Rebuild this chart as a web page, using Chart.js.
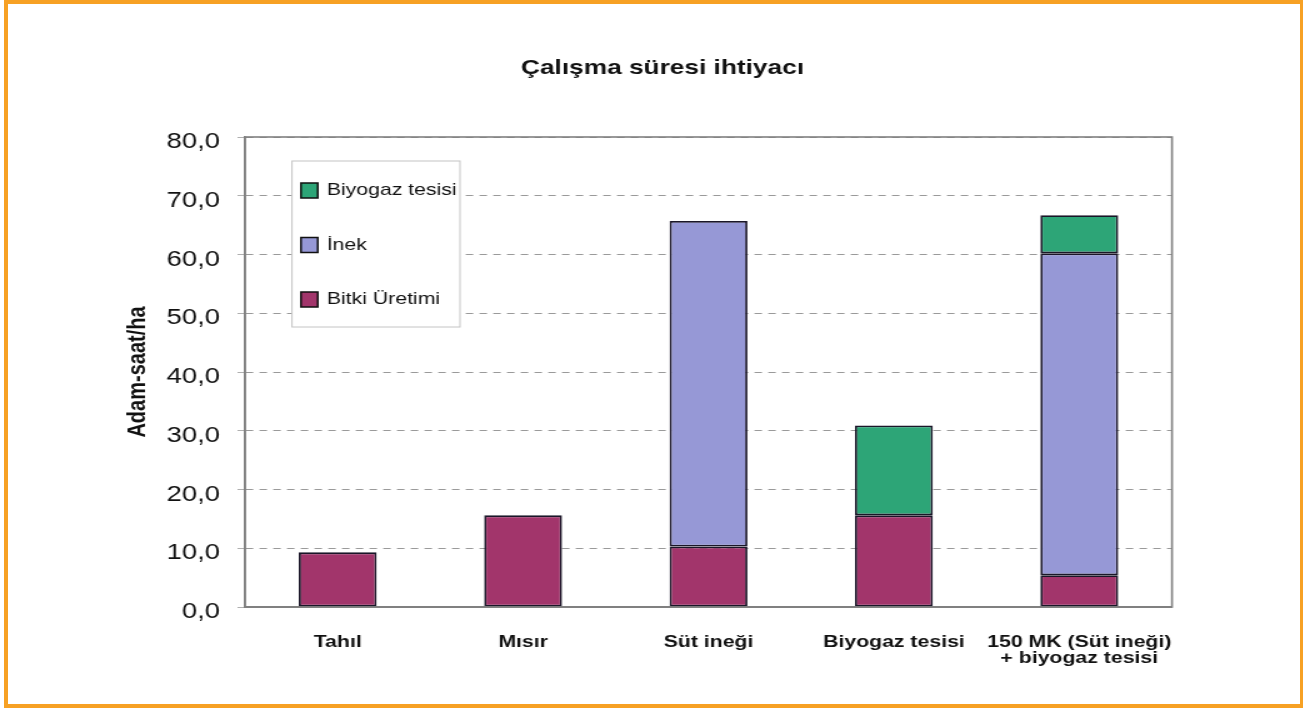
<!DOCTYPE html>
<html lang="tr">
<head>
<meta charset="utf-8">
<title>Çalışma süresi ihtiyacı</title>
<script src="https://cdn.jsdelivr.net/npm/chart.js@4.4.1/dist/chart.umd.min.js"></script>
<style>
  html, body { margin: 0; padding: 0; background: #fff; width: 1303px; height: 708px; overflow: hidden; }
  #frame { position: absolute; left: 4px; top: 0; width: 1299px; height: 708px; box-sizing: border-box;
           border: 4px solid #F7A124; border-right-width: 3px; pointer-events: none; }
  #wrap { position: absolute; left: 30px; top: 0; width: 1012px; height: 708px;
          transform: scaleX(1.25); transform-origin: 0 0; }
  #chart { display: block; }
</style>
</head>
<body>
<div id="wrap"><canvas id="chart" width="1012" height="708"></canvas></div>
<div id="frame"></div>
<script>
// Categories along the x axis
const categories = ['Tahıl', 'Mısır', 'Süt ineği', 'Biyogaz tesisi', ['150 MK (Süt ineği)', '+ biyogaz tesisi']];

// Man-hours per hectare, stacked from the bottom up
const bitkiUretimi  = [9.3, 15.6, 10.3, 15.6, 5.4];
const inek          = [null, null, 55.4, null, 54.8];
const biyogazTesisi = [null, null, null, 15.3, 6.5];

// Series names
const seriesNames = ['Bitki Üretimi', 'İnek', 'Biyogaz tesisi'];

// Value axis
const yMin = 0, yMax = 80, yStep = 10;
const formatTick = v => v.toFixed(1).replace('.', ',');

const FONT = "'Liberation Sans', Arial, Helvetica, sans-serif";
Chart.defaults.font.family = FONT;
Chart.defaults.color = '#000';

// Grey frame around the plot area
const plotFrame = {
  id: 'plotFrame',
  afterDatasetsDraw(chart) {
    const { ctx, chartArea: a } = chart;
    ctx.save();
    ctx.strokeStyle = '#808080';
    ctx.lineWidth = 1.6;
    ctx.strokeRect(a.left, a.top, a.right - a.left, a.bottom - a.top);
    ctx.restore();
  }
};

// Boxed legend sitting inside the plot, top series first
const boxLegend = {
  id: 'boxLegend',
  afterDraw(chart, args, o) {
    const { ctx } = chart;
    ctx.save();
    ctx.fillStyle = '#fff';
    ctx.fillRect(o.x, o.y, o.width, o.height);
    ctx.strokeStyle = '#c4c4c4';
    ctx.lineWidth = 1;
    ctx.strokeRect(o.x, o.y, o.width, o.height);
    const order = chart.data.datasets.map((d, i) => i).reverse();
    order.forEach((di, k) => {
      const ds = chart.data.datasets[di];
      const cy = o.y + o.firstRow + k * o.rowGap;
      ctx.fillStyle = ds.backgroundColor;
      ctx.fillRect(o.x + o.markerX, cy - o.markerH / 2, o.markerW, o.markerH);
      ctx.strokeStyle = '#111';
      ctx.lineWidth = 1.5;
      ctx.strokeRect(o.x + o.markerX, cy - o.markerH / 2, o.markerW, o.markerH);
      ctx.fillStyle = '#111';
      ctx.font = '17px ' + FONT;
      ctx.textBaseline = 'middle';
      ctx.textAlign = 'left';
      ctx.fillText(ds.label, o.x + o.textX, cy);
    });
    ctx.restore();
  }
};

const barStyle = {
  borderColor: '#1a1628',
  borderWidth: 1.8,
  borderSkipped: false,
  barPercentage: 0.42,
  categoryPercentage: 1.0
};

new Chart(document.getElementById('chart'), {
  type: 'bar',
  data: {
    labels: categories,
    datasets: [
      { label: seriesNames[0], data: bitkiUretimi,  backgroundColor: '#A2356B', ...barStyle },
      { label: seriesNames[1], data: inek,          backgroundColor: '#9698D6', ...barStyle },
      { label: seriesNames[2], data: biyogazTesisi, backgroundColor: '#2DA577', ...barStyle }
    ]
  },
  options: {
    responsive: false,
    devicePixelRatio: 1,
    animation: false,
    layout: { padding: 0 },
    plugins: {
      legend: { display: false },
      tooltip: { enabled: false },
      title: {
        display: true,
        text: 'Çalışma süresi ihtiyacı',
        color: '#111',
        font: { size: 21, weight: 'bold', family: FONT },
        padding: { top: 55.5, bottom: 56.3 }
      },
      boxLegend: {
        x: 209.6, y: 161, width: 134.4, height: 166,
        firstRow: 29.5, rowGap: 54.5,
        markerX: 7.2, markerW: 13.4, markerH: 15,
        textX: 27.8
      }
    },
    scales: {
      x: {
        stacked: true,
        grid: { display: false, drawTicks: false },
        border: { display: true, color: '#808080', width: 2 },
        ticks: {
          color: '#111',
          font: { size: 17, weight: 'bold', family: FONT, lineHeight: 0.95 },
          padding: 27,
          maxRotation: 0,
          autoSkip: false
        },
        afterFit: s => { s.height = 101; }
      },
      y: {
        stacked: true,
        min: yMin,
        max: yMax,
        grid: {
          color: '#9a9a9a',
          lineWidth: 1,
          drawTicks: true,
          tickLength: 6,
          tickColor: '#b0b0b0'
        },
        border: { display: true, color: '#808080', width: 1.6, dash: [6, 5] },
        ticks: {
          stepSize: yStep,
          color: '#111',
          font: { size: 22, family: FONT },
          padding: 14,
          labelOffset: 5,
          callback: v => formatTick(v)
        },
        title: {
          display: true,
          text: 'Adam-saat/ha',
          color: '#111',
          font: { size: 20, weight: 'bold', family: FONT },
          padding: { top: 74.4, bottom: 0 }
        },
        afterFit: s => { s.width = 172; }
      },
      // empty right-hand margin so the plot ends where the frame does
      rightMargin: {
        type: 'linear',
        position: 'right',
        display: true,
        grid: { display: false, drawTicks: false },
        border: { display: false },
        ticks: { display: false },
        afterFit: s => { s.width = 98.4; }
      }
    }
  },
  plugins: [plotFrame, boxLegend]
});
</script>
</body>
</html>
